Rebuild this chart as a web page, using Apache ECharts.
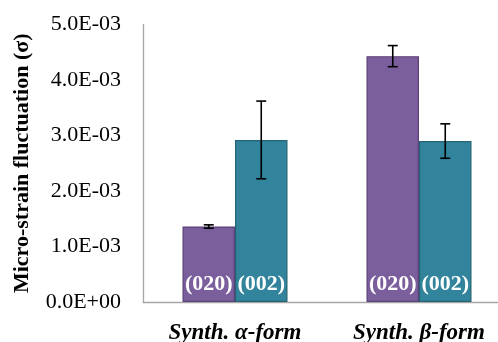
<!DOCTYPE html>
<html><head><meta charset="utf-8">
<script src="https://cdn.jsdelivr.net/npm/echarts@6/dist/echarts.min.js"></script>
<style>html,body{margin:0;padding:0;background:#fff}#c{width:498px;height:342px}</style>
</head><body><div id="c"></div>
<script>
const categories = ['Synth. α-form', 'Synth. β-form'];
const seriesNames = ['(020)', '(002)'];
const values020 = [1.36e-3, 4.43e-3];
const err020 = [0.03e-3, 0.19e-3];
const values002 = [2.92e-3, 2.90e-3];
const err002 = [0.70e-3, 0.31e-3];
const yTicks = [0, 1e-3, 2e-3, 3e-3, 4e-3, 5e-3];

function fmt(v){
  if (v === 0) return '0.0E+00';
  const e = Math.floor(Math.log10(Math.abs(v)) + 1e-9);
  const m = v / Math.pow(10, e);
  const es = (e < 0 ? '-' : '+') + String(Math.abs(e)).padStart(2, '0');
  return m.toFixed(1) + 'E' + es;
}

const chart = echarts.init(document.getElementById('c'));
const serif = '"Liberation Serif", "DejaVu Serif", serif';
const BW = 52.5;

function errSeries(vals, errs, offsetIdx){
  return {
    type: 'custom',
    z: 10,
    silent: true,
    renderItem: function(params, api){
      const i = api.value(0);
      const lo = api.coord([i, api.value(1)]);
      const hi = api.coord([i, api.value(2)]);
      const x = lo[0] + (offsetIdx === 0 ? -BW/2 : BW/2);
      const cw = 5;
      const st = {stroke: '#000', lineWidth: 1.6};
      return {type: 'group', children: [
        {type: 'line', shape: {x1: x, y1: lo[1], x2: x, y2: hi[1]}, style: st},
        {type: 'line', shape: {x1: x-cw, y1: lo[1], x2: x+cw, y2: lo[1]}, style: st},
        {type: 'line', shape: {x1: x-cw, y1: hi[1], x2: x+cw, y2: hi[1]}, style: st}
      ]};
    },
    data: vals.map((v, i) => [i, v - errs[i], v + errs[i]])
  };
}

const labelStyle = {
  show: true, position: 'insideBottom', distance: 7,
  color: '#fff', fontFamily: serif, fontWeight: 'bold', fontSize: 22,
  formatter: p => p.seriesName
};

chart.setOption({
  animation: false,
  grid: {left: 143, width: 368, top: 24.5, bottom: 40, containLabel: false, outerBoundsMode: 'none'},
  xAxis: {
    type: 'category', data: categories,
    axisLine: {lineStyle: {color: '#a6a6a6', width: 1.3}},
    axisTick: {show: false},
    axisLabel: {color: '#000', fontFamily: serif, fontWeight: 'bold', fontStyle: 'italic', fontSize: 23, margin: 20}
  },
  yAxis: {
    type: 'value', min: 0, max: 5e-3, interval: 1e-3,
    name: 'Micro-strain fluctuation (σ)', nameLocation: 'middle', nameGap: 110,
    nameTextStyle: {color: '#000', fontFamily: serif, fontWeight: 'bold', fontSize: 22},
    axisLine: {show: true, lineStyle: {color: '#a6a6a6', width: 1.3}},
    axisTick: {show: false},
    splitLine: {show: false},
    axisLabel: {color: '#000', fontFamily: serif, fontSize: 22, margin: 22, formatter: fmt}
  },
  series: [
    {name: seriesNames[0], type: 'bar', data: values020, barWidth: BW, barGap: '0%',
      itemStyle: {color: '#7b5f9c', borderColor: '#5a4177', borderWidth: 1.2}, label: labelStyle},
    {name: seriesNames[1], type: 'bar', data: values002, barWidth: BW, barGap: '0%',
      itemStyle: {color: '#31849b', borderColor: '#256475', borderWidth: 1.2}, label: labelStyle},
    errSeries(values020, err020, 0),
    errSeries(values002, err002, 1)
  ]
});
</script></body></html>
